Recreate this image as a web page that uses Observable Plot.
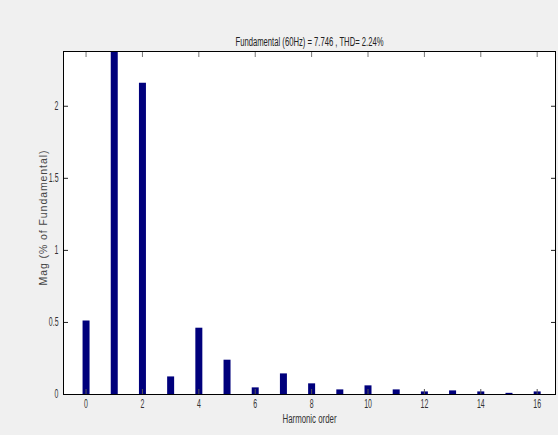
<!DOCTYPE html>
<html>
<head>
<meta charset="utf-8">
<script src="https://cdn.jsdelivr.net/npm/d3@7"></script>
<script src="https://cdn.jsdelivr.net/npm/@observablehq/plot@0.6"></script>
<style>
  html, body { margin: 0; padding: 0; background: #f0f0f0; }
  #chart { width: 558px; height: 435px; }
</style>
</head>
<body>
<div id="chart"></div>
<script>
const harmonics = [0, 1, 2, 3, 4, 5, 6, 7, 8, 9, 10, 11, 12, 13, 14, 15, 16];
const magnitudes = [0.51, 100, 2.16, 0.122, 0.46, 0.238, 0.046, 0.143, 0.074, 0.032, 0.06, 0.032, 0.018, 0.025, 0.018, 0.008, 0.018];
const xTicks = [0, 2, 4, 6, 8, 10, 12, 14, 16];
const yTicks = [0, 0.5, 1, 1.5, 2];
const titleText = "Fundamental (60Hz) = 7.746 , THD= 2.24%";
const xLabel = "Harmonic order";
const yLabel = "Mag (% of Fundamental)";

const data = harmonics.map((h, i) => ({h, v: magnitudes[i]}));
const fontFam = "Liberation Sans, Arial, sans-serif";

const chart = Plot.plot({
  width: 558,
  height: 435,
  marginTop: 51,
  marginLeft: 63,
  marginRight: 3,
  marginBottom: 41,
  style: {background: "#f0f0f0", fontFamily: fontFam, fontSize: "12px", color: "#333"},
  x: {domain: [-0.8, 16.65], ticks: xTicks},
  y: {domain: [0, 2.38], ticks: yTicks},
  marks: [
    Plot.frame({fill: "white"}),
    Plot.ruleX(data, {x: "h", y1: 0, y2: "v", stroke: "#00007c", strokeWidth: 7, clip: true}),
    Plot.axisX({anchor: "bottom", ticks: xTicks, tickSize: -5, tickPadding: 10, label: null, stroke: "#555", fill: "#333"}),
    Plot.axisX({anchor: "top", ticks: xTicks, tickSize: -5, text: null, label: null, stroke: "#777"}),
    Plot.axisY({anchor: "left", ticks: yTicks, tickSize: -5, tickPadding: 10, label: null, tickFormat: d => String(d), stroke: "#222", fill: "#333"}),
    Plot.axisY({anchor: "right", ticks: yTicks, tickSize: -5, text: null, label: null, stroke: "#222"}),
    Plot.frame({stroke: "black"}),
    Plot.text([titleText], {frameAnchor: "top", dy: -14, text: d => d, fill: "#222", fontSize: 12, className: "ttl"}),
    Plot.text([xLabel], {frameAnchor: "bottom", dy: 28, text: d => d, fill: "#333", fontSize: 12, className: "xl"}),
    Plot.text([yLabel], {frameAnchor: "left", textAnchor: "middle", lineAnchor: "middle", dx: -20, dy: -5, rotate: -90, text: d => d, fill: "#444", fontSize: 10.5, className: "yl"})
  ]
});
document.getElementById("chart").appendChild(chart);

// condense texts to mimic the narrow raster font
function condense(sel, factor, target, mode) {
  sel.each(function() {
    const len = this.getComputedTextLength();
    if (!len) return;
    const w = target != null ? target : len * factor;
    this.setAttribute("textLength", w);
    this.setAttribute("lengthAdjust", mode || "spacingAndGlyphs");
  });
}
const svg = d3.select(chart);
condense(svg.selectAll("g[aria-label='x-axis tick label'] text, g[aria-label='y-axis tick label'] text"), 0.58);
condense(svg.selectAll(".ttl text"), 1, 148);
condense(svg.selectAll(".xl text"), 1, 54);
condense(svg.selectAll(".yl text"), 1, 135, "spacing");
</script>
</body>
</html>
